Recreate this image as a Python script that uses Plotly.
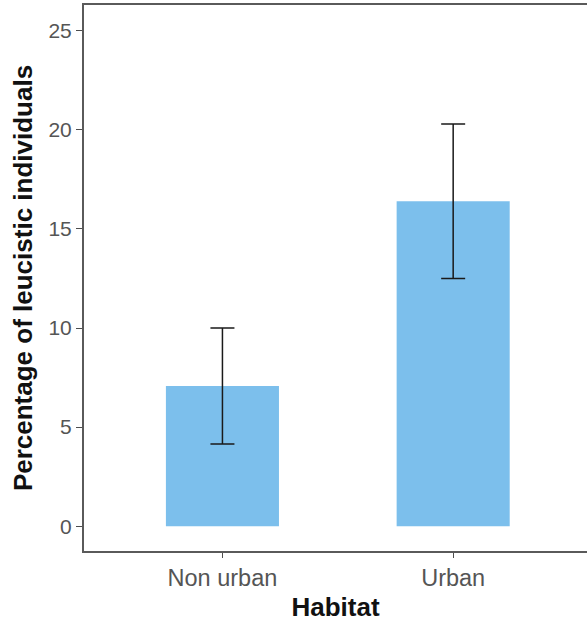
import plotly.graph_objects as go

habitats = ["Non urban", "Urban"]
percent = [7.07, 16.4]
err_upper = [10.0, 20.3]
err_lower = [4.15, 12.5]
y_ticks = [0, 5, 10, 15, 20, 25]

plus = [u - v for u, v in zip(err_upper, percent)]
minus = [v - l for v, l in zip(percent, err_lower)]

fig = go.Figure()
fig.add_trace(go.Bar(
    x=habitats, y=percent, width=0.49,
    marker=dict(color="#7CBFEC", line=dict(width=0)),
    error_y=dict(type="data", symmetric=False, array=plus, arrayminus=minus,
                 color="#1a1a1a", thickness=1.5, width=12),
))

fig.update_layout(
    width=587, height=626,
    margin=dict(l=84, r=0, t=5, b=75),
    paper_bgcolor="white", plot_bgcolor="white",
    font=dict(family="Liberation Sans, Arial, sans-serif"),
    showlegend=False,
    xaxis=dict(
        range=[-0.6, 1.58], showline=True, linecolor="#5a5a5a", linewidth=2,
        mirror=True, ticks="outside", ticklen=5, tickcolor="#4d4d4d",
        tickfont=dict(size=23.5, color="#555555"), automargin=False,
        title=dict(text="<b>Habitat</b>", font=dict(size=26, color="#111111"), standoff=8),
        showgrid=False, zeroline=False,
    ),
    yaxis=dict(
        range=[-1.25, 26.3], tickvals=y_ticks, showline=True, linecolor="#5a5a5a",
        linewidth=2, ticks="outside", ticklen=6, tickcolor="#4d4d4d",
        tickfont=dict(size=21, color="#555555"), automargin=False,
        title=dict(text="<b>Percentage of leucistic individuals</b>",
                   font=dict(size=26, color="#111111"), standoff=8),
        showgrid=False, zeroline=False,
    ),
)

fig.write_html("out.html", config={"displayModeBar": False},
               post_script="document.body.style.margin='0';")
